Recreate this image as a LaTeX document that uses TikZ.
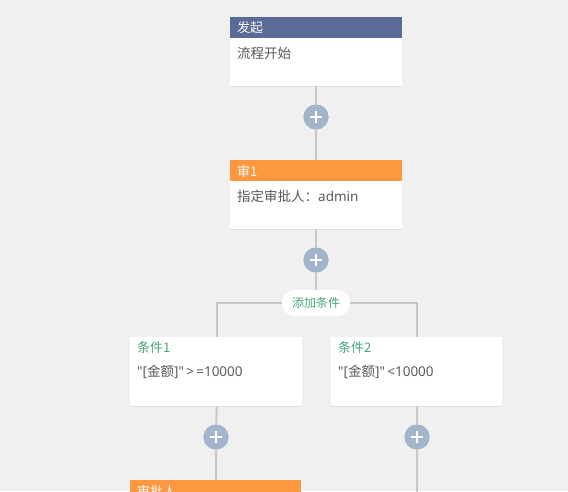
\documentclass[tikz,border=0pt]{standalone}
\usepackage{fontspec}
\setmainfont{Noto Sans CJK SC}
\newfontfamily\lat{Noto Sans}
\usetikzlibrary{shadows,calc}
\definecolor{bg}{HTML}{F0F0F0}
\definecolor{hblue}{HTML}{596B96}
\definecolor{horange}{HTML}{FD9840}
\definecolor{plusc}{HTML}{A2B5CA}
\definecolor{linec}{HTML}{C8C8C8}
\definecolor{txt}{HTML}{595959}
\definecolor{grn}{HTML}{45A874}
\tikzset{
  card/.style={rectangle, fill=white, minimum width=172pt, minimum height=69pt, inner sep=0pt, anchor=north west,
    drop shadow={opacity=0.08, shadow xshift=0pt, shadow yshift=-1pt}},
  hdrtext/.style={text=white, font=\fontsize{13}{15}\selectfont, anchor=west, inner sep=0pt},
  bodytext/.style={text=txt, font=\fontsize{13.5}{16}\selectfont, anchor=west, inner sep=0pt},
  condtitle/.style={text=grn, font=\fontsize{13}{15}\selectfont, anchor=west, inner sep=0pt},
  plusbtn/.style={circle, fill=plusc, minimum size=25pt, inner sep=0pt,
    path picture={\draw[white, line width=2.2pt] ([xshift=-6pt]path picture bounding box.center) -- ([xshift=6pt]path picture bounding box.center);
                  \draw[white, line width=2.2pt] ([yshift=-6pt]path picture bounding box.center) -- ([yshift=6pt]path picture bounding box.center);}},
  conn/.style={draw=linec, line width=2pt},
  pill/.style={rectangle, rounded corners=13pt, fill=white, minimum width=68pt, minimum height=26pt, inner sep=0pt,
    text=grn, font=\fontsize{12}{14}\selectfont}
}
\begin{document}
\begin{tikzpicture}[x=1pt, y=-1pt]
\fill[bg] (0,0) rectangle (568,491);
\useasboundingbox (0,0) rectangle (568,491);
\clip (0,0) rectangle (568,491);

\coordinate (endr) at (417,495);
\node[card] (b1) at (230,17) {};
\node[card] (b2) at (230,160) {};
\node[card] (c1) at (130,337) {};
\node[card, minimum width=171pt] (c2) at (331,337) {};
\node[card, minimum width=171pt] (b3) at (130,480) {};
\node[plusbtn] (p1) at (316,117) {};
\node[plusbtn] (p2) at (316,260) {};
\node[pill] (add) at (316,303) {};
\node[plusbtn] (p3) at (216,437) {};
\node[plusbtn] (p4) at (417,437) {};

\path[conn] (b1.south) -- (p1) (p1) -- (b2.north);
\path[conn] (b2.south) -- (p2) (p2) -- (add.north);
\path[conn] (add.west) -| ($(c1.north)+(0.5,0)$);
\path[conn] (add.east) -| ($(c2.north)+(0.5,0)$);
\path[conn] ($(c1.south)+(0.5,0)$) -- (p3) (p3) -- ($(b3.north)+(0.5,0)$);
\path[conn] ($(c2.south)+(0.5,0)$) -- (p4) (p4) -- (endr);

% cards and buttons on top of the connectors
\node[card] (b1) at (230,17) {};
\node[card] (b2) at (230,160) {};
\node[card] (c1) at (130,337) {};
\node[card, minimum width=171pt] (c2) at (331,337) {};
\node[card, minimum width=171pt] (b3) at (130,480) {};
\node[plusbtn] (p1) at (316,117) {};
\node[plusbtn] (p2) at (316,260) {};
\node[pill] (add) at (316,303) {添加条件};
\node[plusbtn] (p3) at (216,437) {};
\node[plusbtn] (p4) at (417,437) {};

\fill[hblue] (b1.north west) rectangle ($(b1.north east)+(0,21)$);
\fill[horange] (b2.north west) rectangle ($(b2.north east)+(0,21)$);
\fill[horange] (b3.north west) rectangle ($(b3.north east)+(0,21)$);

\node[hdrtext] (t1) at (237,27.5) {发起};
\node[bodytext] (s1) at (237,53) {流程开始};
\node[hdrtext] (t2) at (237,171) {审1};
\node[bodytext] (s2) at (237,196) {指定审批人：{\lat admin}};
\node[condtitle] (t3) at (137,348) {条件1};
\node[bodytext] (s3) at (137,372) {{\lat "[}金额{\lat ]"\,>\,=10000}};
\node[condtitle] (t4) at (338,348) {条件2};
\node[bodytext] (s4) at (338,372) {{\lat "[}金额{\lat ]"\,<10000}};
\node[hdrtext] (t5) at (137,491) {审批人};
\end{tikzpicture}
\end{document}
